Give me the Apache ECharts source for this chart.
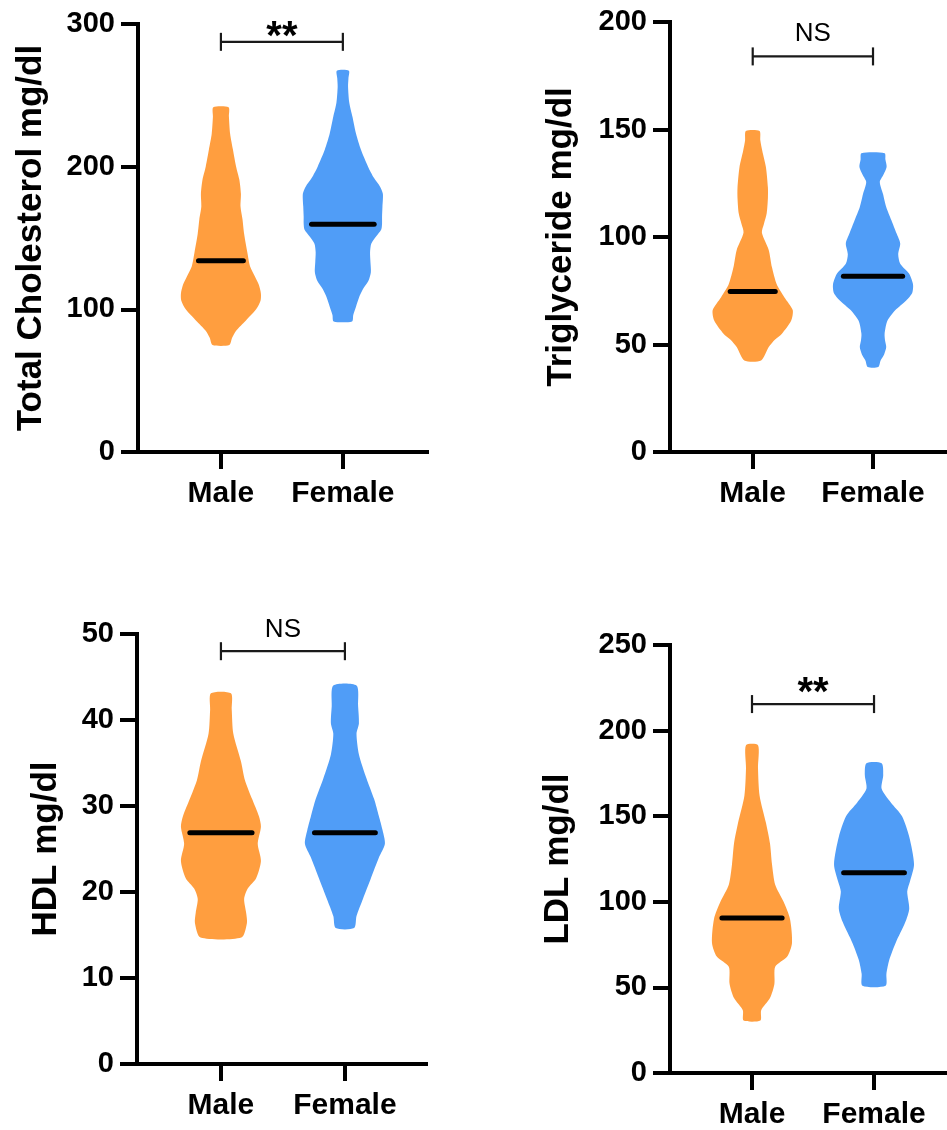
<!DOCTYPE html>
<html><head><meta charset="utf-8">
<script src="https://cdn.jsdelivr.net/npm/echarts@6/dist/echarts.min.js"></script>
<style>html,body{margin:0;padding:0;background:#fff}#c{width:947px;height:1130px}</style>
</head><body><div id="c"></div>
<script>
// ---------------- data ----------------
const categories = ['Male', 'Female'];
const titles = ['Total Cholesterol mg/dl', 'Triglyceride mg/dl', 'HDL mg/dl', 'LDL mg/dl'];
const yMax = [300, 200, 50, 250];
const yInterval = [100, 50, 10, 50];

// violin profiles: [value, relative density % of the widest part]
const tcMale = [[75,21],[80,28],[85,38],[92,62],[100,88],[106,99],[111,100],[117,95],[123,85],[130,73],[140,66],[153,58],[163,54],[172,49],[181,50],[191,46],[200,38],[212,30],[223,23],[235,20],[241.6,19]];
const tcFemale = [[91.5,23],[96,26],[102,33],[108,40],[114,50],[120,64],[126,70],[133,69],[140,68],[146,71],[151,83],[156,96],[160,98],[165,98],[172,99],[181,100],[186,93],[192,78],[200,63],[212,45],[223,33],[235,24],[245,16],[256,13],[262,14],[267.3,15]];
const tgMale = [[42.6,21],[48.8,40],[52.3,56],[55,73],[61,96],[66,100],[72,79],[78,60],[86,48],[94,40],[102,23],[106,28],[111,35],[118,38],[123,38],[132.6,33],[140,24],[145,19],[149.3,17]];
const tgFemale = [[39.5,13],[42.6,19],[45.5,28],[48.8,33],[52,30],[55,29],[61,36],[66,56],[70.5,83],[74,98],[78,100],[83,90],[87.6,68],[92,63],[97,68],[101.6,59],[107.8,46],[114,33],[120,25],[125.6,17],[129,26],[132.6,34],[136,31],[139,29]];
const hdlMale = [[14.7,51],[16.4,65],[17.6,63],[19.2,58],[20.4,67],[21.6,88],[23.6,100],[25.6,92],[27.6,100],[28.8,95],[30.8,78],[33,60],[35.2,50],[38.4,31],[41.2,27],[43.1,25]];
const hdlFemale = [[15.8,23],[17.2,29],[19.2,45],[21.6,65],[24,85],[25.6,100],[27.2,94],[28.8,85],[30.8,73],[33.2,54],[36,35],[38.4,29],[39.6,35],[41.6,33],[44,29]];
const ldlMale = [[30.7,21],[36.7,23],[43.8,45],[52,56],[62,58],[68,88],[76,100],[90,95],[100,79],[110,58],[122,50],[134,45],[146,35],[162,19],[178,15],[191.4,15]];
const ldlFemale = [[51,29],[58,31],[66,38],[76,54],[88,78],[96,88],[106,83],[112,90],[122,100],[138,88],[150,70],[158,42],[166,19],[174,23],[181,19]];

const medians = [[134, 159.7], [74.7, 81.7], [26.9, 26.9], [90.6, 117]];
const bracketY = [287.5, 184, 48, 215.5];
const sigLabels = ['**', 'NS', 'NS', '**'];

const profiles = [[tcMale, tcFemale], [tgMale, tgFemale], [hdlMale, hdlFemale], [ldlMale, ldlFemale]];

// ---------------- style / layout ----------------
const FONT = 'Liberation Sans, Arial, Helvetica, sans-serif';
const colors = ['#FF9E3F', '#509DF7'];
const HALF = 40; // px half-width of widest violin part
const layout = [
  { left: 138, top: 24,  width: 289, height: 428, xMin: 0.32,  xMax: 2.69,  nameGap: 89, textDy: -4 },
  { left: 670, top: 22,  width: 277, height: 430, xMin: 0.3125, xMax: 2.615, nameGap: 91, textDy: -23 },
  { left: 137, top: 634, width: 289, height: 430, xMin: 0.323, xMax: 2.654, nameGap: 73, textDy: -21 },
  { left: 670, top: 645, width: 277, height: 428, xMin: 0.328, xMax: 2.598, nameGap: 94, textDy: -10 }
];

function interp(prof, v) {
  for (let j = 0; j < prof.length - 1; j++) {
    const a = prof[j], b = prof[j + 1];
    if (v >= a[0] && v <= b[0]) return a[1] + (b[1] - a[1]) * (v - a[0]) / (b[0] - a[0]);
  }
  return 0;
}

function violinRender(k) {
  return function (params, api) {
    const i = params.dataIndex;
    const xv = api.value(0);
    const prof = profiles[k][i];
    const cx = api.coord([xv, 0])[0];
    const right = prof.map(p => [cx + p[1] / 100 * HALF, api.coord([xv, p[0]])[1]]);
    const left = prof.slice().reverse().map(p => [cx - p[1] / 100 * HALF, api.coord([xv, p[0]])[1]]);
    const med = api.value(1);
    const my = api.coord([xv, med])[1];
    const hl = interp(prof, med) / 100 * HALF * 0.8;
    return {
      type: 'group',
      children: [
        { type: 'polygon', shape: { points: right.concat(left), smooth: 0.25 }, style: { fill: colors[i] } },
        { type: 'line', shape: { x1: cx - hl, y1: my, x2: cx + hl, y2: my }, style: { stroke: '#000', lineWidth: 5, lineCap: 'round' } }
      ]
    };
  };
}

function bracketRender(k) {
  return function (params, api) {
    const a = api.coord([api.value(0), api.value(2)]);
    const b = api.coord([api.value(1), api.value(2)]);
    const ls = { stroke: '#1a1a1a', lineWidth: 2.2 };
    const isStar = sigLabels[k] === '**';
    return {
      type: 'group',
      children: [
        { type: 'line', shape: { x1: a[0], y1: a[1], x2: b[0], y2: b[1] }, style: ls },
        { type: 'line', shape: { x1: a[0], y1: a[1] - 9, x2: a[0], y2: a[1] + 9 }, style: ls },
        { type: 'line', shape: { x1: b[0], y1: b[1] - 9, x2: b[0], y2: b[1] + 9 }, style: ls },
        { type: 'text', x: (a[0] + b[0]) / 2, y: a[1] + layout[k].textDy,
          style: { text: sigLabels[k], fill: '#000', align: 'center', verticalAlign: 'middle',
                   font: (isStar ? 'bold 40px ' : 'normal 26px ') + FONT } }
      ]
    };
  };
}

const grid = [], xAxis = [], yAxis = [], series = [];
for (let k = 0; k < 4; k++) {
  const L = layout[k];
  grid.push({ left: L.left, top: L.top, width: L.width, height: L.height, containLabel: false, outerBoundsMode: 'none' });
  xAxis.push({
    gridIndex: k, type: 'value', min: L.xMin, max: L.xMax,
    axisLine: { show: true, onZero: false, lineStyle: { color: '#000', width: 4, cap: 'square' } },
    axisTick: { show: true, customValues: [1, 2], length: 17, lineStyle: { color: '#000', width: 4 } },
    axisLabel: { show: true, customValues: [1, 2], formatter: v => categories[Math.round(v) - 1],
                 fontSize: 30, fontWeight: 'bold', color: '#000', margin: 27, fontFamily: FONT },
    splitLine: { show: false }
  });
  yAxis.push({
    gridIndex: k, type: 'value', min: 0, max: yMax[k], interval: yInterval[k],
    name: titles[k], nameLocation: 'middle', nameRotate: 90, nameGap: L.nameGap,
    nameTextStyle: { fontSize: 35, fontWeight: 'bold', color: '#000', fontFamily: FONT },
    axisLine: { show: true, onZero: false, lineStyle: { color: '#000', width: 4, cap: 'square' } },
    axisTick: { show: true, length: 17, lineStyle: { color: '#000', width: 4 } },
    axisLabel: { fontSize: 29, fontWeight: 'bold', color: '#000', margin: 23, fontFamily: FONT },
    splitLine: { show: false }
  });
  series.push({
    type: 'custom', xAxisIndex: k, yAxisIndex: k, renderItem: violinRender(k),
    encode: { x: 0, y: 1 }, data: [[1, medians[k][0]], [2, medians[k][1]]], silent: true
  });
  series.push({
    type: 'custom', xAxisIndex: k, yAxisIndex: k, renderItem: bracketRender(k),
    encode: { x: [0, 1], y: 2 }, data: [[1, 2, bracketY[k]]], silent: true
  });
}

const chart = echarts.init(document.getElementById('c'), null, { renderer: 'canvas' });
chart.setOption({ animation: false, backgroundColor: '#fff', grid, xAxis, yAxis, series });
</script>
</body></html>
